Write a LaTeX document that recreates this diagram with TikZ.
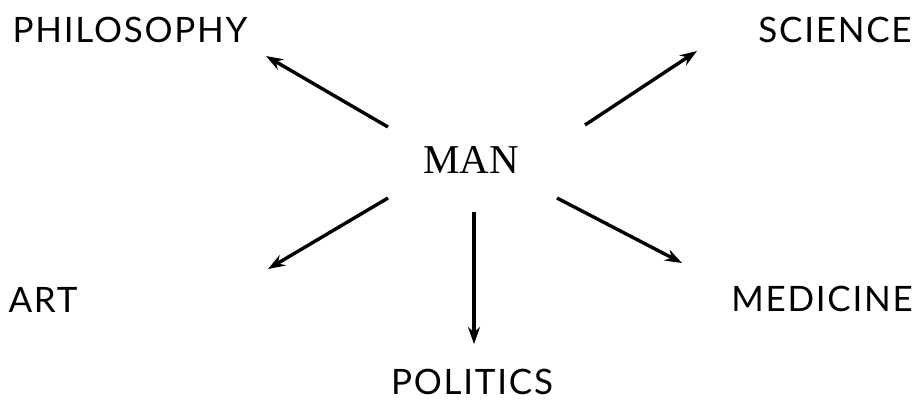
\documentclass[tikz,border=0pt]{standalone}
\usepackage{fontspec}
\setmainfont{Lato}[LetterSpace=5]
\newfontfamily\manfont{Liberation Serif}
\usetikzlibrary{arrows.meta}
\begin{document}
\begin{tikzpicture}[x=1pt, y=-1pt, >={Stealth[length=17pt,width=12pt]}, font=\fontsize{35}{41}\selectfont,
		arr/.style={->, line width=3.4pt}]
		\useasboundingbox (0,0) rectangle (923,405);
		\node[font=\manfont\fontsize{41}{47}\selectfont] (M) at (471,160) {MAN};
		\node (P) at (130,30) {PHILOSOPHY};
		\node (S) at (835,30) {SCIENCE};
		\node (A) at (43,300) {ART};
		\node (D) at (822,299) {MEDICINE};
		\node (T) at (472,382) {POLITICS};
		\begin{scope}
			\coordinate (p0) at (388,127); \coordinate (p1) at (266,56);
			\coordinate (s0) at (585,125); \coordinate (s1) at (697,51);
			\coordinate (a0) at (388,198); \coordinate (a1) at (268,269);
			\coordinate (d0) at (557,198); \coordinate (d1) at (682,263);
			\coordinate (t0) at (474,212); \coordinate (t1) at (474,344);
			\draw[arr] (p0) -- (p1);
			\draw[arr] (s0) -- (s1);
			\draw[arr] (a0) -- (a1);
			\draw[arr] (d0) -- (d1);
			\draw[arr] (t0) -- (t1);
		\end{scope}
\end{tikzpicture}
\end{document}
